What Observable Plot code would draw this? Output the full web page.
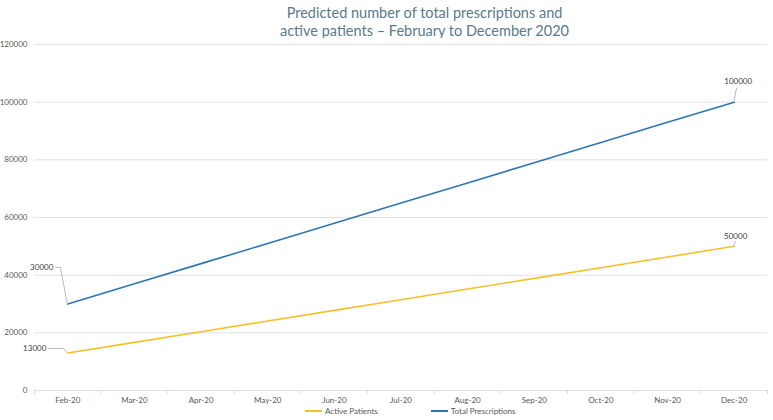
<!DOCTYPE html>
<html><head><meta charset="utf-8">
<script src="https://cdn.jsdelivr.net/npm/d3@7"></script>
<script src="https://cdn.jsdelivr.net/npm/@observablehq/plot@0.6"></script>
<style>
body{margin:0;background:#fff;font-family:Lato,"Open Sans",sans-serif;}
#wrap{position:relative;width:773px;height:420px;overflow:hidden;}
#title{position:absolute;top:4px;left:38px;width:773px;text-align:center;color:#587a8c;font-size:14.5px;line-height:17.5px;}
#chart{position:absolute;top:38px;left:0;}
#legend{position:absolute;top:406px;left:305px;font-size:8px;color:#595959;display:flex;gap:0;}
.item{display:flex;align-items:center;margin-right:0;}
.sw{display:inline-block;width:17px;height:2px;margin-right:3px;}
</style></head>
<body><div id="wrap">
<div id="title">Predicted number of total prescriptions and<br>active patients – February to December 2020</div>
<div id="chart"></div>
<div id="legend"></div>
</div>
<script>
const months = ["Feb-20","Mar-20","Apr-20","May-20","Jun-20","Jul-20","Aug-20","Sep-20","Oct-20","Nov-20","Dec-20"];
const activePatients = [13000,16700,20400,24100,27800,31500,35200,38900,42600,46300,50000];
const totalPrescriptions = [30000,37000,44000,51000,58000,65000,72000,79000,86000,93000,100000];
const yTicks = [0,20000,40000,60000,80000,100000,120000];
const seriesNames = ["Active Patients","Total Prescriptions"];
const colors = ["#f5c12a","#2e75b6"];

const rows = [];
months.forEach((m,i)=>{
  rows.push({month:m, series:seriesNames[0], value:activePatients[i]});
  rows.push({month:m, series:seriesNames[1], value:totalPrescriptions[i]});
});

// data labels with leader lines (offsets in px from the data point)
const callouts = [
  {m:0, v:totalPrescriptions[0], kx:-7, ky:-36, hx:-5, anchor:"end"},
  {m:0, v:activePatients[0], kx:-4, ky:-4, hx:-15, anchor:"end"},
  {m:10, v:totalPrescriptions[10], tx:4.5, ty:-20, kx:3, ky:-14, anchor:"middle"},
  {m:10, v:activePatients[10], tx:2, ty:-9, kx:2, ky:-5, anchor:"middle"}
];

function leaders(index, scales) {
  const g = d3.create("svg:g");
  for (const c of callouts) {
    const px = scales.x(months[c.m]);
    const py = scales.y(c.v);
    const kx = px + c.kx, ky = py + c.ky;
    if (c.anchor === "end") {
      g.append("path").attr("d", `M${px},${py}L${kx},${ky}L${kx+c.hx},${ky}`)
        .attr("fill","none").attr("stroke","#a6a6a6").attr("stroke-width",0.8);
      g.append("text").attr("x", kx+c.hx-2).attr("y", ky).attr("dy","0.32em")
        .attr("text-anchor","end").attr("font-size",8).attr("fill","#404040").text(c.v);
    } else {
      g.append("path").attr("d", `M${px},${py}L${kx},${ky}`)
        .attr("fill","none").attr("stroke","#a6a6a6").attr("stroke-width",0.8);
      g.append("text").attr("x", px+c.tx).attr("y", py+c.ty).attr("dy","0.32em")
        .attr("text-anchor","middle").attr("font-size",8).attr("fill","#404040").text(c.v);
    }
  }
  return g.node();
}

const chart = Plot.plot({
  width: 773,
  height: 366,
  marginTop: 6,
  marginBottom: 14,
  marginLeft: 34,
  marginRight: 6,
  style: {fontFamily: "Lato, 'Open Sans', sans-serif", fontSize: "8px", color: "#595959", background: "#fff", overflow: "visible"},
  x: {type: "point", domain: months, padding: 0.5, round: false, label: null},
  y: {domain: [0, 120000], label: null},
  color: {domain: seriesNames, range: colors},
  marks: [
    Plot.gridY(yTicks, {stroke: "#d9d9d9", strokeOpacity: 1, strokeWidth: 0.8}),
    Plot.ruleX(months, {x: d => d, dx: 33.3, y1: 0, y2: -1300, stroke: "#d9d9d9"}),
    Plot.ruleX([months[0]], {x: d => d, dx: -33.3, y1: 0, y2: -1300, stroke: "#d9d9d9"}),
    Plot.axisY(yTicks, {tickSize: 0, tickPadding: 7, tickFormat: d => String(d), fill: "#595959"}),
    Plot.axisX(months, {tickSize: 0, tickPadding: 7, fill: "#595959"}),
    Plot.line(rows, {x: "month", y: "value", z: "series", stroke: "series", strokeWidth: 1.6}),
    leaders
  ]
});
document.getElementById("chart").appendChild(chart);

const legend = document.getElementById("legend");
seriesNames.forEach((s,i)=>{
  const it = document.createElement("div");
  it.className = "item";
  it.style.marginRight = i === 0 ? "53px" : "0";
  it.innerHTML = `<span class="sw" style="background:${colors[i]}"></span><span>${s}</span>`;
  legend.appendChild(it);
});
</script>
</body></html>
